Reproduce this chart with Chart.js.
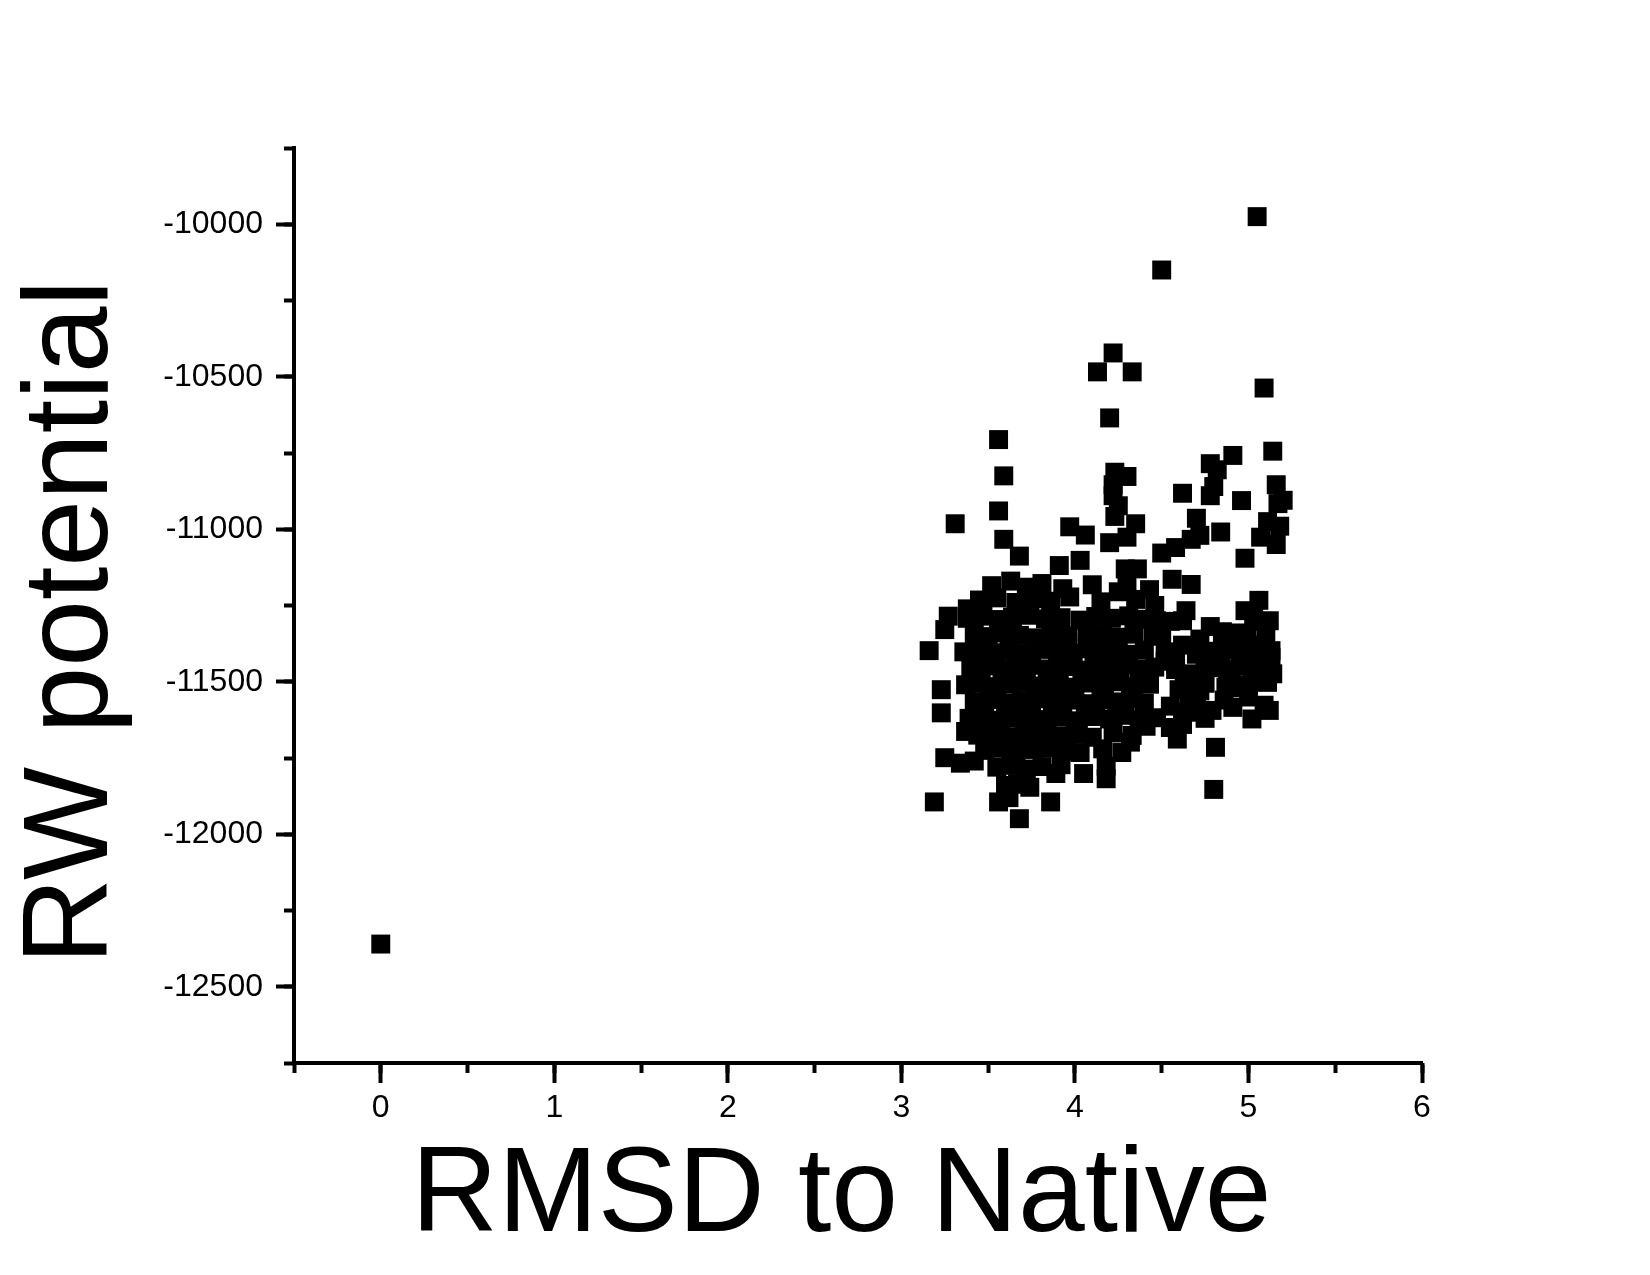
<!DOCTYPE html>
<html lang="en">
<head>
  <meta charset="UTF-8" />
  <title>RW potential vs RMSD to Native</title>
  <script src="https://cdn.jsdelivr.net/npm/chart.js"></script>
  <style>
    * { margin: 0; padding: 0; box-sizing: border-box; }
    body { background: #fff; width: 1650px; height: 1275px; overflow: hidden; }
    canvas { display: block; }
  </style>
</head>
<body>
  <canvas id="rwChart" width="1650" height="1275"></canvas>

  <script>
    // axis ranges and labelled ticks
    const xRange = [-0.5, 6];
    const yRange = [-12750, -9750];
    const xTickLabels = ['0', '1', '2', '3', '4', '5', '6'];
    const yTickLabels = ['-12500', '-12000', '-11500', '-11000', '-10500', '-10000'];

    // RMSD of each decoy (first one is the native)
    const rmsd = [
      0.00, 5.05, 4.50, 4.22, 4.13, 4.33, 4.20, 5.09, 3.56, 3.59,
      3.31, 3.56, 3.59, 3.68, 5.14, 4.91, 4.78, 4.82, 4.80, 4.78,
      5.16, 5.17, 5.20, 4.62, 4.96, 4.70, 5.11, 5.07, 5.16, 5.18,
      4.84, 4.67, 4.72, 4.50, 4.58, 4.98, 4.35, 3.97, 4.06, 4.20,
      4.30, 4.23, 4.30, 4.22, 4.25, 4.23, 4.22, 4.29, 4.36, 3.91,
      4.03, 4.56, 4.67, 4.43, 4.25, 5.06, 5.03, 5.09, 4.98, 4.64,
      4.78, 4.85, 4.55, 5.14, 5.09, 5.02, 5.12, 4.91, 4.79, 4.81,
      4.80, 4.59, 4.68, 4.66, 4.60, 4.52, 4.41, 4.32, 4.18, 4.18,
      4.03, 4.05, 3.86, 3.89, 3.68, 3.56, 3.62, 3.67, 3.19, 3.25,
      3.34, 3.42, 3.23, 3.23, 3.16, 3.25, 3.27, 3.38, 3.37, 4.46,
      4.62, 4.70, 4.75, 4.83, 4.90, 4.95, 5.00, 5.05, 5.10, 5.13,
      5.06, 4.88, 4.95, 5.02, 4.72, 4.65, 4.55, 4.58,
      4.85, 4.94, 5.12, 5.00, 4.86, 4.75, 4.62, 4.55, 4.50, 4.47,
      3.52, 3.63, 3.72, 3.81, 3.93, 4.10, 4.30,
      3.45, 3.55, 3.66, 3.76, 3.86, 3.97, 4.15, 4.35,
      3.38, 3.47, 3.56, 3.64, 3.74, 3.83, 3.92, 4.03, 4.12, 4.21, 4.31, 4.41, 4.62,
      3.42, 3.50, 3.59, 3.68, 3.77, 3.86, 3.96, 4.07, 4.16, 4.25, 4.34, 4.45, 4.72, 4.88, 4.99,
      3.36, 3.45, 3.54, 3.62, 3.71, 3.80, 3.90, 3.99, 4.07, 4.15, 4.23, 4.31, 4.40, 4.52, 4.78, 4.92, 5.05, 5.13,
      3.40, 3.49, 3.58, 3.66, 3.75, 3.84, 3.94, 4.04, 4.11, 4.19, 4.28, 4.37, 4.46, 4.58, 4.84, 4.96, 5.08,
      3.37, 3.46, 3.55, 3.63, 3.72, 3.82, 3.91, 4.00, 4.09, 4.17, 4.26, 4.34, 4.43, 4.63, 4.75, 4.87, 5.00, 5.11,
      3.42, 3.51, 3.60, 3.69, 3.78, 3.87, 3.97, 4.06, 4.15, 4.24, 4.32, 4.40, 4.70,
      3.39, 3.48, 3.57, 3.66, 3.75, 3.84, 3.93, 4.02, 4.12, 4.20, 4.29, 4.37, 4.47,
      3.44, 3.53, 3.62, 3.71, 3.80, 3.90, 4.00, 4.10, 4.22, 4.33,
      3.48, 3.58, 3.66, 3.76, 3.85, 3.95, 4.16, 4.27,
      3.55, 3.63, 3.72, 3.81, 3.92,
      3.60, 3.67, 3.74
    ];

    // RW potential of each decoy, same order as rmsd
    const rwPotential = [
      -12360, -9975, -10150, -10422, -10484, -10484, -10635, -10537, -10706, -10825,
      -10982, -10940, -11033, -11088, -10744, -10758, -10785, -10805, -10860, -10890,
      -10854, -10916, -10905, -10882, -10906, -10964, -10975, -11026, -11050, -10990,
      -11009, -11033, -11020, -11078, -11060, -11095, -10982, -10992, -11019, -11044,
      -11026, -10813, -10827, -10854, -10923, -10958, -10890, -11130, -11130, -11119,
      -11102, -11164, -11181, -11198, -11205, -11233, -11285, -11302, -11267, -11267,
      -11319, -11336, -11302, -11474, -11577, -11622, -11594, -11584, -11594, -11715,
      -11853, -11688, -11474, -11560, -11526, -11433, -11646, -11698, -11818, -11777,
      -11732, -11801, -11894, -11801, -11949, -11894, -11880, -11836, -11894, -11749,
      -11767, -11760, -11602, -11526, -11398, -11329, -11285, -11261, -11663, -11250,
      -11380, -11410, -11450, -11430, -11460, -11400, -11420, -11380, -11350, -11420,
      -11460, -11500, -11520, -11500, -11530, -11600, -11580, -11440,
      -11380, -11340, -11300, -11550, -11560, -11620, -11640, -11650, -11350, -11300,
      -11185, -11170, -11190, -11178, -11195, -11182, -11175,
      -11232, -11225, -11240, -11228, -11236, -11222, -11238, -11230,
      -11292, -11285, -11296, -11288, -11282, -11294, -11290, -11298, -11286, -11292, -11284, -11295, -11300,
      -11345, -11352, -11340, -11348, -11356, -11342, -11350, -11338, -11346, -11354, -11344, -11350, -11360, -11348, -11342,
      -11402, -11396, -11405, -11398, -11408, -11394, -11400, -11406, -11392, -11404, -11398, -11410, -11396, -11402, -11400, -11394, -11408, -11398,
      -11455, -11448, -11460, -11452, -11446, -11458, -11450, -11462, -11449, -11456, -11444, -11458, -11452, -11460, -11454, -11448, -11462,
      -11510, -11504, -11516, -11508, -11502, -11514, -11506, -11518, -11504, -11512, -11500, -11515, -11508, -11512, -11505, -11518, -11510, -11502,
      -11565, -11558, -11570, -11562, -11556, -11568, -11560, -11572, -11558, -11566, -11554, -11570, -11568,
      -11620, -11614, -11626, -11618, -11612, -11624, -11616, -11628, -11614, -11622, -11610, -11626, -11618,
      -11675, -11668, -11680, -11672, -11666, -11678, -11670, -11682, -11668, -11676,
      -11725, -11718, -11730, -11722, -11716, -11728, -11720, -11732,
      -11780, -11774, -11786, -11778, -11772,
      -11840, -11834, -11846
    ];

    const points = rmsd.map((x, i) => ({ x: x, y: rwPotential[i] }));

    const fontFamily = "'Liberation Sans', Arial, sans-serif";
    const tickFont = { family: fontFamily, size: 32, lineHeight: 1.2 };
    const titleFont = { family: fontFamily, size: 120, lineHeight: 1 };

    const isXMajor = v => xTickLabels.includes(String(v));
    const isYMajor = v => yTickLabels.includes(String(v));

    const ctx = document.getElementById('rwChart').getContext('2d');

    new Chart(ctx, {
      type: 'scatter',
      data: {
        datasets: [{
          data: points,
          pointStyle: 'rect',
          pointRadius: 13.4,
          pointHoverRadius: 13.4,
          pointBorderWidth: 0,
          backgroundColor: '#000',
          borderColor: '#000'
        }]
      },
      options: {
        responsive: false,
        animation: false,
        devicePixelRatio: 1,
        events: [],
        layout: { padding: { top: 148, right: 228, bottom: 0, left: 0 } },
        plugins: {
          legend: { display: false },
          tooltip: { enabled: false }
        },
        scales: {
          x: {
            type: 'linear',
            position: 'bottom',
            min: xRange[0],
            max: xRange[1],
            afterFit: s => { s.height = 212; },
            border: { display: true, color: '#000', width: 4 },
            grid: {
              drawOnChartArea: false,
              tickLength: 20,
              tickWidth: 4,
              tickColor: c => (c.tick && isXMajor(c.tick.value)) ? '#000' : 'rgba(0,0,0,0)'
            },
            ticks: {
              stepSize: 0.5,
              autoSkip: false,
              maxRotation: 0,
              padding: 6,
              color: '#000',
              font: tickFont,
              callback: v => isXMajor(v) ? String(v) : ''
            },
            title: {
              display: true,
              // trailing space nudges the centred title a little left, as in the original
              text: 'RMSD to Native ',
              color: '#000',
              font: titleFont,
              padding: { top: 0, bottom: 17 }
            }
          },
          xMinor: {
            type: 'linear',
            axis: 'x',
            position: 'bottom',
            weight: -1,
            min: xRange[0],
            max: xRange[1],
            afterFit: s => { s.height = 0; },
            border: { display: false },
            grid: { drawOnChartArea: false, tickLength: 10, tickWidth: 4, tickColor: '#000' },
            ticks: { stepSize: 0.5, display: false, autoSkip: false }
          },
          y: {
            type: 'linear',
            position: 'left',
            min: yRange[0],
            max: yRange[1],
            afterFit: s => { s.width = 294; },
            border: { display: true, color: '#000', width: 4 },
            grid: {
              drawOnChartArea: false,
              tickLength: 18,
              tickWidth: 4,
              tickColor: c => (c.tick && isYMajor(c.tick.value)) ? '#000' : 'rgba(0,0,0,0)'
            },
            ticks: {
              stepSize: 250,
              autoSkip: false,
              padding: 13,
              color: '#000',
              font: tickFont,
              callback: v => isYMajor(v) ? String(v) : ''
            },
            title: {
              display: true,
              text: 'RW potential ',
              color: '#000',
              font: titleFont,
              padding: { top: 14, bottom: 0 }
            }
          },
          yMinor: {
            type: 'linear',
            axis: 'y',
            position: 'left',
            weight: -1,
            min: yRange[0],
            max: yRange[1],
            afterFit: s => { s.width = 0; },
            border: { display: false },
            grid: { drawOnChartArea: false, tickLength: 10, tickWidth: 4, tickColor: '#000' },
            ticks: { stepSize: 250, display: false, autoSkip: false }
          }
        }
      }
    });
  </script>
</body>
</html>
